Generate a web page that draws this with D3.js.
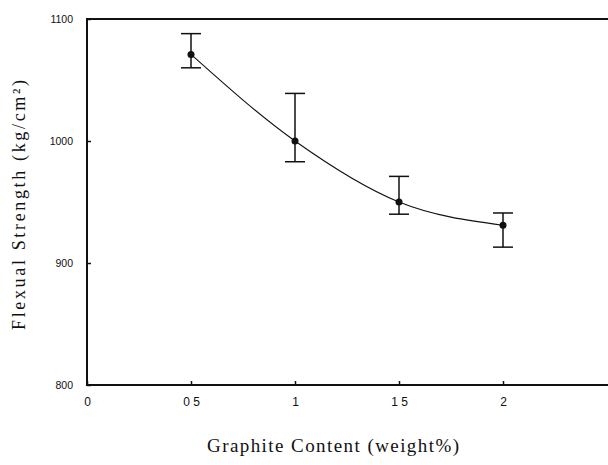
<!DOCTYPE html>
<html><head><meta charset="utf-8">
<script src="https://cdn.jsdelivr.net/npm/d3@7"></script>
<style>body{margin:0;background:#fff}svg{display:block}</style>
</head><body>
<svg id="c" width="608" height="465"></svg>
<script>
const content = [0.5, 1, 1.5, 2];
const strength = [1071, 1000, 950, 931];
const errHigh = [1088, 1039, 971, 941];
const errLow = [1060, 983, 940, 913];
const xTicks = [0, 0.5, 1, 1.5, 2];
const xTickLabels = ["0", "0 5", "1", "1 5", "2"];
const yTicks = [800, 900, 1000, 1100];
const yTickLabels = ["800", "900", "1000", "1100"];

const svg = d3.select("#c");
const x = d3.scaleLinear().domain([0, 2.5]).range([87, 607]);
const y = d3.scaleLinear().domain([800, 1100]).range([385, 19]);

// frame
svg.append("line").attr("x1", 87).attr("x2", 608).attr("y1", y(1100)).attr("y2", y(1100)).attr("stroke", "#111").attr("stroke-width", 2);
svg.append("line").attr("x1", 87).attr("x2", 608).attr("y1", y(800)).attr("y2", y(800)).attr("stroke", "#111").attr("stroke-width", 2);
svg.append("line").attr("x1", 87).attr("x2", 87).attr("y1", y(1100) - 1).attr("y2", y(800) + 1).attr("stroke", "#111").attr("stroke-width", 2);

// x axis
const xAxis = d3.axisBottom(x).tickValues(xTicks).tickSize(-4).tickPadding(12)
  .tickFormat((d, i) => xTickLabels[i]);
const gx = svg.append("g").attr("transform", `translate(0,${y(800)})`).call(xAxis);
gx.select(".domain").remove();
gx.selectAll("line").attr("stroke", "#111").attr("stroke-width", 1.5);
gx.selectAll("text").attr("font-family", "Liberation Sans, Arial, sans-serif").attr("font-size", 12).attr("fill", "#111");

// y axis
const yAxis = d3.axisLeft(y).tickValues(yTicks).tickSize(-4).tickPadding(14)
  .tickFormat((d, i) => yTickLabels[i]);
const gy = svg.append("g").attr("transform", `translate(87,0)`).call(yAxis);
gy.select(".domain").remove();
gy.selectAll("line").attr("stroke", "#111").attr("stroke-width", 1.5);
gy.selectAll("text").attr("font-family", "Liberation Sans, Arial, sans-serif").attr("font-size", 10.5).attr("fill", "#111");

// curve
const line = d3.line().x((d, i) => x(content[i])).y(d => y(d)).curve(d3.curveMonotoneX);
svg.append("path").attr("d", line(strength)).attr("fill", "none").attr("stroke", "#111").attr("stroke-width", 1.1);

// error bars
const eb = svg.append("g").attr("stroke", "#111");
content.forEach((c, i) => {
  eb.append("line").attr("x1", x(c)).attr("x2", x(c)).attr("y1", y(errHigh[i])).attr("y2", y(errLow[i])).attr("stroke-width", 1.5);
  eb.append("line").attr("x1", x(c) - 10).attr("x2", x(c) + 10).attr("y1", y(errHigh[i])).attr("y2", y(errHigh[i])).attr("stroke-width", 1.5);
  eb.append("line").attr("x1", x(c) - 10).attr("x2", x(c) + 10).attr("y1", y(errLow[i])).attr("y2", y(errLow[i])).attr("stroke-width", 1.5);
});

// markers
svg.append("g").selectAll("circle").data(strength).join("circle")
  .attr("cx", (d, i) => x(content[i])).attr("cy", d => y(d)).attr("r", 3.5).attr("fill", "#111");

// titles
svg.append("text").attr("x", 207).attr("y", 452)
  .attr("font-family", "Liberation Serif, Times New Roman, serif").attr("font-size", 19).attr("fill", "#111")
  .attr("textLength", 252).attr("lengthAdjust", "spacing")
  .text("Graphite Content (weight%)");
svg.append("text").attr("transform", `translate(25,330) rotate(-90)`)
  .attr("font-family", "Liberation Serif, Times New Roman, serif").attr("font-size", 18).attr("fill", "#111")
  .attr("textLength", 250).attr("lengthAdjust", "spacing")
  .text("Flexual Strength (kg/cm²)");
</script>
</body></html>
